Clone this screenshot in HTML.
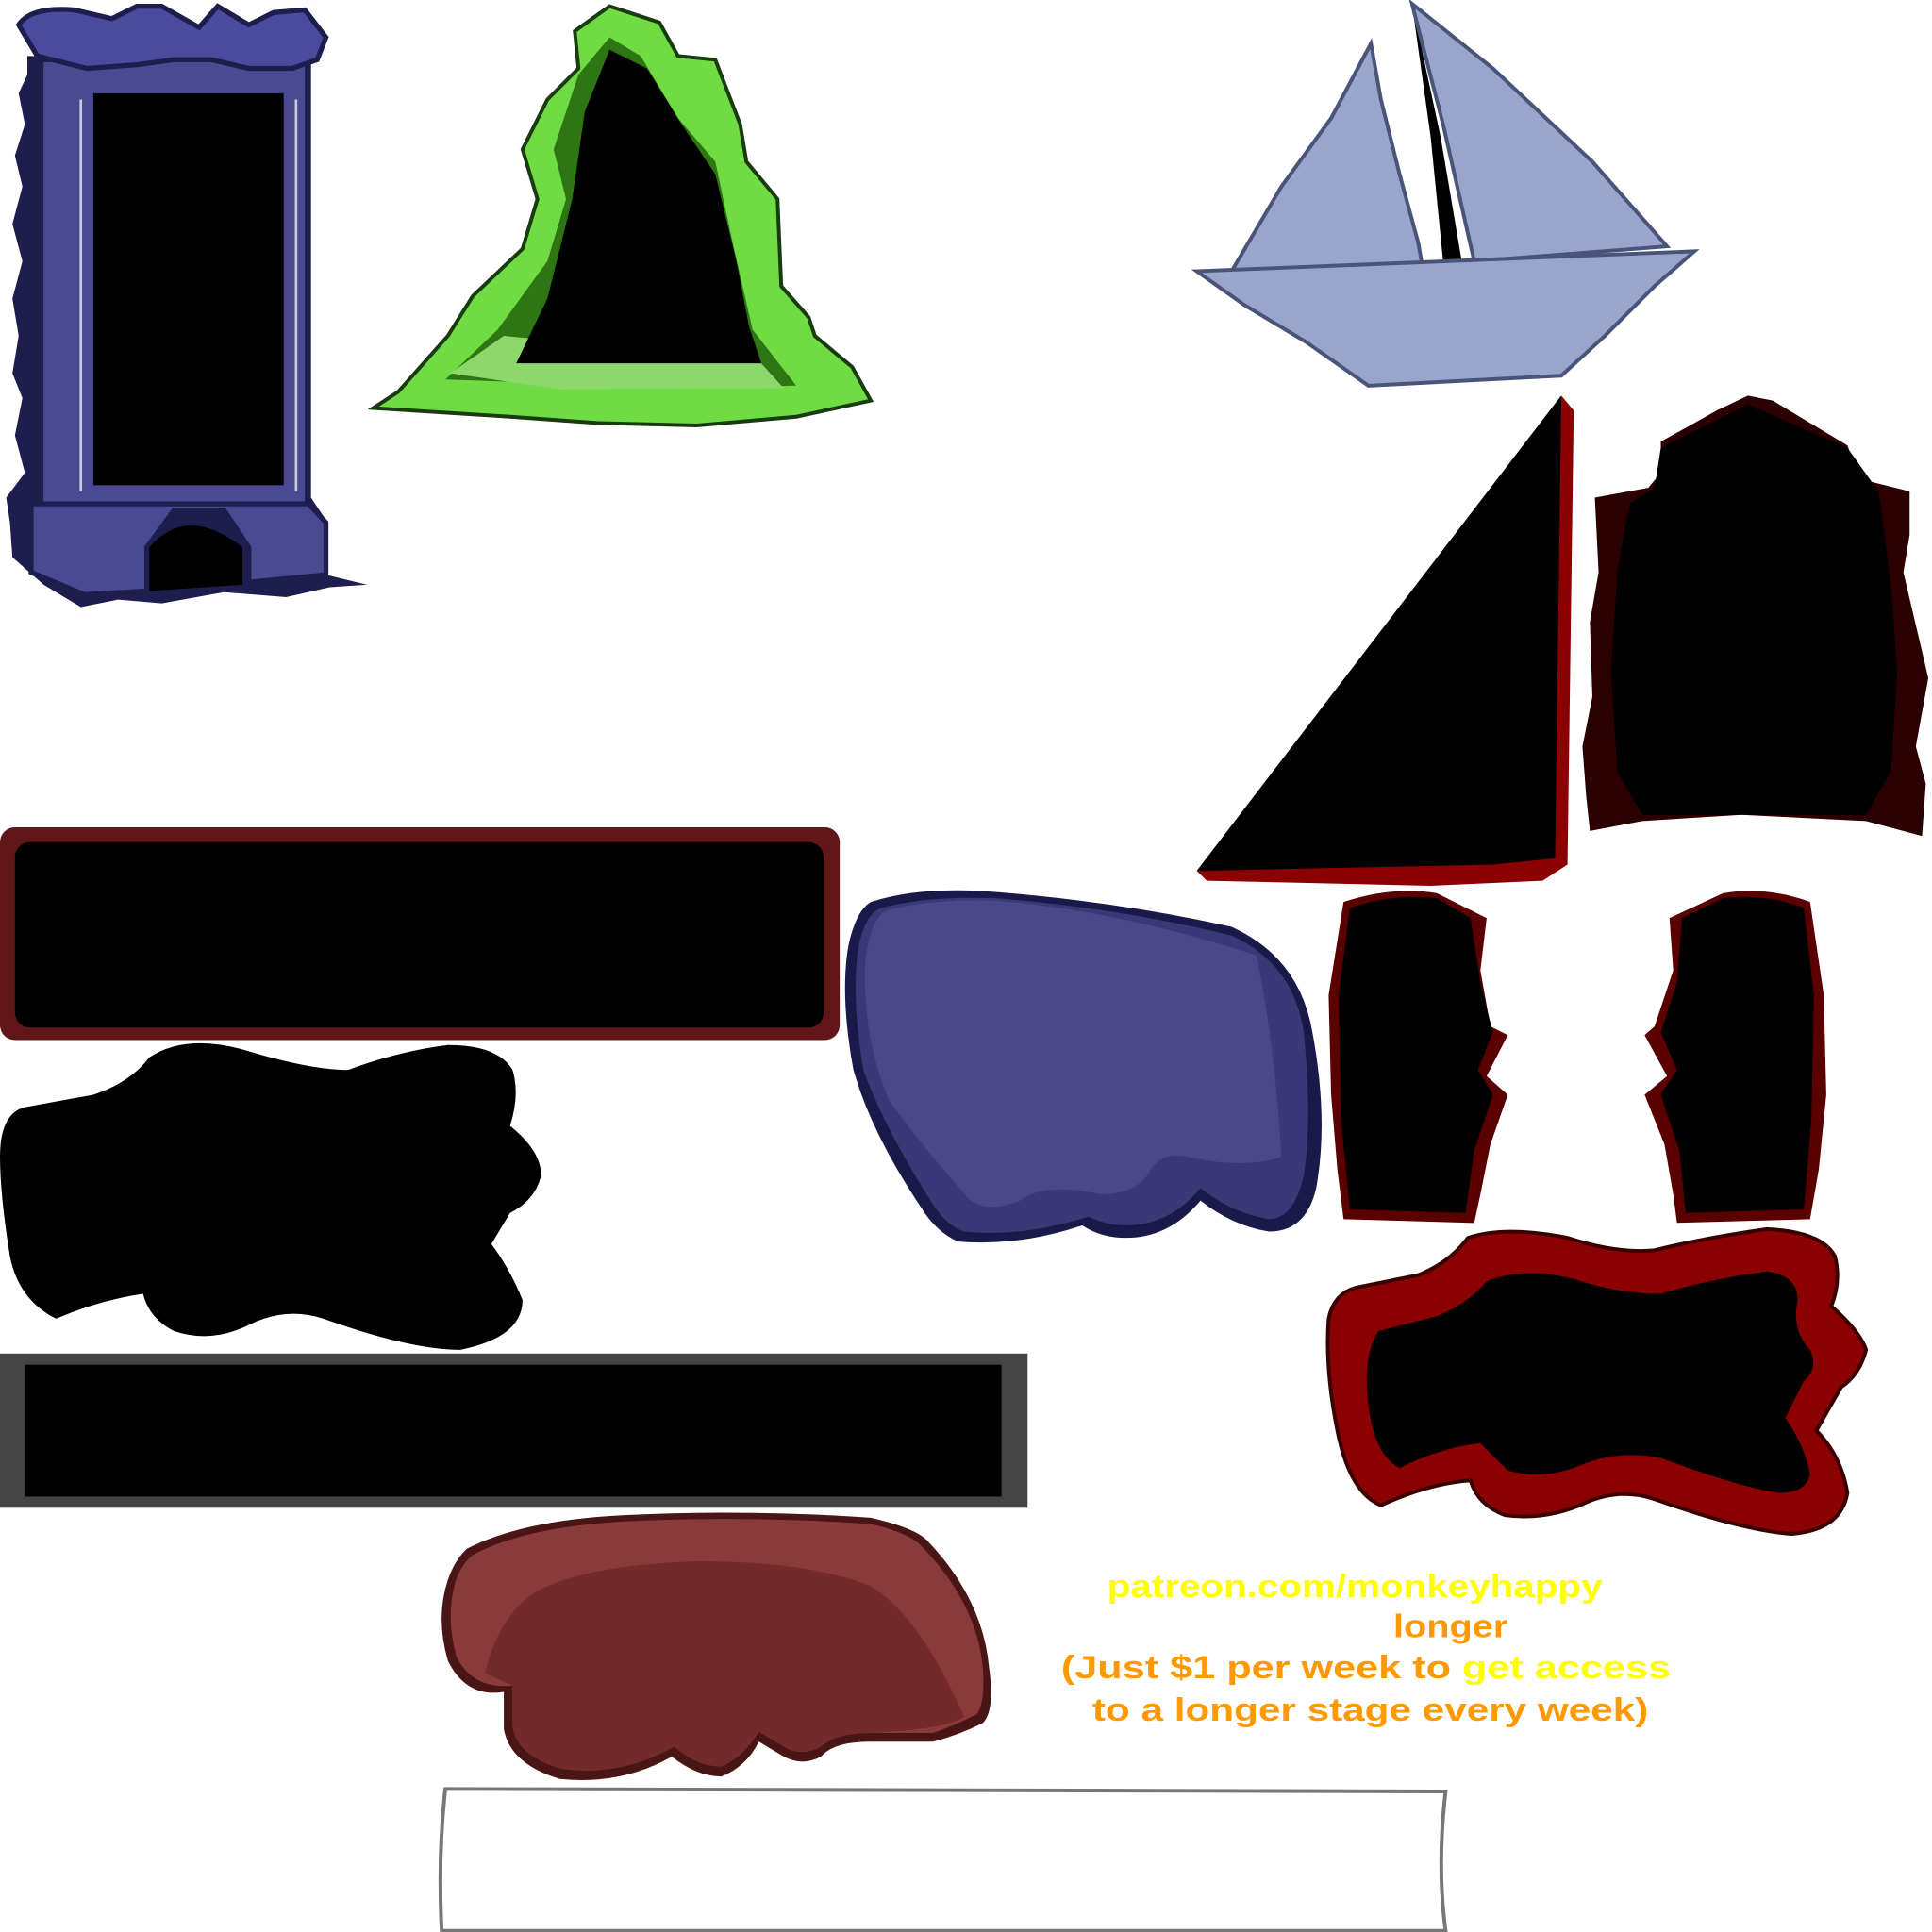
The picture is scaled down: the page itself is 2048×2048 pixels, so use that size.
<!DOCTYPE html>
<html><head><meta charset="utf-8"><style>
html,body{margin:0;padding:0;background:#fff;width:2048px;height:2048px;overflow:hidden}
svg{display:block}
text{font-family:"Liberation Sans",sans-serif;font-weight:bold;font-size:26px}
</style></head><body>
<svg width="2048" height="2048" viewBox="0 0 1553 1553" xmlns="http://www.w3.org/2000/svg">
<!-- blue tower -->
<path d="M22,45 L250,45 L250,400 L262,418 L262,462 L295,470 L265,472 L230,480 L180,476 L130,485 L95,482 L65,488 L35,470 L10,448 L8,420 L5,400 L20,380 L12,350 L18,320 L10,300 L15,270 L10,240 L18,210 L10,180 L18,150 L12,125 L20,100 L15,75 L22,60 Z" fill="#1e1e4e"/>
<rect x="35" y="50" width="210" height="355" fill="#4a4a92"/>
<rect x="75" y="75" width="153" height="315" fill="#000"/>
<path d="M65,80 L65,395 M238,80 L238,395" stroke="#ccd" stroke-width="2"/>
<path d="M25,405 L248,405 L262,420 L262,462 L200,468 L200,440 L180,410 L140,410 L118,440 L118,475 L68,478 L25,460 Z" fill="#4a4a92" stroke="#1e1e4e" stroke-width="4"/>
<path d="M120,440 Q150,405 195,440 L195,470 L120,475 Z" fill="#000"/>
<path d="M15,20 Q25,5 60,8 L90,15 L110,5 L130,5 L160,22 L175,5 L200,20 L220,10 L245,8 L262,30 L255,48 L235,55 L200,55 L170,48 L140,48 L110,52 L70,55 L30,45 Z" fill="#4a4a9e" stroke="#1e1e4e" stroke-width="4"/>
<!-- green triangle -->
<path d="M300,328 L320,315 L360,270 L380,238 L420,200 L432,160 L420,120 L440,80 L465,55 L462,25 L490,5 L530,18 L545,45 L575,48 L595,100 L600,130 L625,160 L628,230 L650,255 L655,270 L685,295 L700,322 L640,335 L560,342 L480,340 L410,335 Z" fill="#6fdc44" stroke="#1a3a10" stroke-width="3"/>
<path d="M358,305 L400,265 L440,210 L455,160 L445,120 L465,60 L490,30 L515,45 L545,95 L575,130 L590,200 L605,265 L640,310 L560,312 Z" fill="#2e7514"/>
<path d="M362,300 L405,270 L610,290 L630,312 L450,313 Z" fill="#8cd86a"/>
<path d="M415,292 L440,240 L460,160 L470,90 L490,40 L520,55 L548,100 L575,140 L592,210 L602,262 L612,292 Z" fill="#000"/>
<!-- sailboat -->
<path d="M990,218 L1030,150 L1070,95 L1102,35 L1110,80 L1125,140 L1140,195 L1143,212 Z" fill="#9aa5cc" stroke="#4a5478" stroke-width="3"/>
<path d="M1135,3 L1150,110 L1160,210 L1175,210 L1158,110 Z" fill="#000"/>
<path d="M1135,3 L1200,55 L1280,130 L1340,198 L1185,210 L1160,100 Z" fill="#9aa5cc" stroke="#4a5478" stroke-width="3"/>
<path d="M962,218 L1362,202 L1330,230 L1290,270 L1255,302 L1100,310 L1050,275 L1000,245 Z" fill="#9aa5cc" stroke="#4a5478" stroke-width="3"/>
<!-- black triangle red edge -->
<path d="M962,700 L1255,318 L1265,330 L1260,695 L1240,708 L1150,712 L970,708 Z" fill="#8b0000"/>
<path d="M962,700 L1255,318 L1250,690 L1200,695 Z" fill="#000"/>
<!-- house shape -->
<path d="M1335,355 L1380,330 L1405,318 L1425,322 L1485,358 L1495,385 L1535,395 L1535,430 L1530,460 L1550,545 L1540,600 L1548,630 L1545,672 L1500,660 L1400,655 L1320,660 L1278,668 L1275,640 L1272,600 L1280,560 L1278,500 L1285,460 L1282,400 L1325,392 L1335,380 Z" fill="#2a0000"/>
<path d="M1335,360 L1405,325 L1485,360 L1510,395 L1520,470 L1525,540 L1520,620 L1500,655 L1320,655 L1300,620 L1295,540 L1300,460 L1310,405 L1330,392 Z" fill="#000"/>
<!-- red rounded rect -->
<rect x="0" y="665" width="675" height="171" rx="12" fill="#611717"/>
<rect x="12" y="677" width="650" height="149" rx="12" fill="#000"/>
<!-- black blob -->
<path d="M20,890 L75,880 Q105,870 120,850 Q150,830 200,845 Q250,860 280,860 Q320,845 360,840 Q400,840 412,860 Q418,880 410,905 Q435,925 435,945 Q430,965 410,975 L395,1000 Q410,1020 420,1045 Q420,1075 370,1085 Q330,1085 260,1060 Q230,1050 200,1065 Q170,1080 140,1070 Q120,1060 115,1040 Q80,1045 45,1060 Q15,1045 8,1010 Q0,960 0,930 Q0,895 20,890 Z" fill="#000"/>
<!-- purple blob -->
<path d="M700,725 Q740,712 800,717 Q900,725 990,745 Q1045,770 1055,830 Q1068,900 1058,955 Q1050,990 1020,990 Q990,985 965,965 Q940,995 905,995 Q885,995 870,985 Q820,1002 770,998 Q752,990 740,970 Q700,910 686,860 Q675,800 682,760 Q688,732 700,725 Z" fill="#1a1a4a"/>
<path d="M708,730 Q745,720 800,722 Q900,730 990,752 Q1040,775 1048,830 Q1055,900 1048,945 Q1040,980 1020,980 Q990,975 965,955 Q940,985 905,985 Q890,985 875,978 Q820,995 775,990 Q760,985 748,965 Q710,905 694,860 Q684,800 690,762 Q695,735 708,730 Z" fill="#3c3776"/>
<path d="M712,732 Q750,722 800,724 Q900,732 1010,768 Q1025,840 1030,930 Q1000,940 955,930 Q935,925 925,940 Q915,960 885,960 Q840,950 820,965 Q795,975 780,965 Q740,920 715,885 Q695,840 695,780 Q698,740 712,732 Z" fill="#4b4789"/>
<!-- pillars -->
<path d="M1080,725 Q1120,712 1155,718 L1195,738 L1190,780 L1198,825 L1212,832 L1195,865 L1212,880 L1198,920 L1190,960 L1185,983 L1080,980 L1075,940 L1070,880 L1068,800 Z" fill="#5a0000"/>
<path d="M1085,730 Q1120,718 1155,722 L1182,738 L1190,790 L1200,830 L1188,860 L1200,880 L1185,925 L1178,975 L1085,972 L1078,900 L1076,800 Z" fill="#000"/>
<path d="M1455,725 Q1420,712 1385,718 L1342,738 L1345,780 L1330,825 L1322,832 L1340,865 L1322,880 L1338,920 L1345,960 L1348,983 L1455,980 L1462,940 L1468,880 L1466,800 Z" fill="#5a0000"/>
<path d="M1450,730 Q1420,718 1385,722 L1352,738 L1348,790 L1335,830 L1348,860 L1335,880 L1350,925 L1355,975 L1450,972 L1456,900 L1458,800 Z" fill="#000"/>
<!-- red blob -->
<path d="M1090,1035 L1140,1025 Q1165,1015 1180,995 Q1210,985 1260,995 Q1300,1008 1330,1005 Q1370,995 1420,988 Q1465,990 1475,1010 Q1480,1030 1472,1050 Q1495,1070 1500,1085 Q1495,1105 1480,1115 L1460,1150 Q1480,1170 1485,1200 Q1480,1230 1440,1233 Q1400,1230 1330,1205 Q1300,1195 1270,1210 Q1240,1222 1210,1218 Q1188,1210 1182,1190 Q1150,1192 1110,1210 Q1085,1200 1075,1150 Q1065,1100 1068,1060 Q1072,1040 1090,1035 Z" fill="#8b0000" stroke="#3a0000" stroke-width="3"/>
<path d="M1108,1070 L1155,1058 Q1180,1048 1195,1030 Q1225,1018 1265,1028 Q1300,1040 1335,1040 Q1375,1028 1420,1022 Q1445,1025 1445,1045 Q1440,1070 1455,1085 Q1462,1100 1450,1110 L1435,1140 Q1450,1160 1455,1185 Q1452,1200 1430,1200 Q1400,1196 1335,1172 Q1300,1165 1270,1178 Q1240,1190 1212,1182 Q1200,1170 1190,1160 Q1160,1163 1125,1180 Q1105,1170 1100,1130 Q1095,1090 1108,1070 Z" fill="#000"/>
<!-- grey rect -->
<rect x="0" y="1088" width="826" height="124" fill="#444"/>
<rect x="20" y="1097" width="785" height="106" fill="#000"/>
<!-- brown blob -->
<path d="M375,1245 Q420,1222 500,1218 Q600,1213 700,1220 Q735,1228 745,1238 Q790,1285 795,1340 Q800,1375 790,1385 Q770,1395 750,1400 L700,1400 Q670,1400 660,1412 Q645,1420 630,1412 L610,1400 Q600,1420 580,1428 Q560,1428 540,1412 Q500,1435 450,1430 Q410,1418 405,1390 L405,1360 Q375,1365 360,1335 Q350,1300 360,1270 Q365,1255 375,1245 Z" fill="#4a1515"/>
<path d="M380,1250 Q420,1228 500,1223 Q600,1218 700,1225 Q730,1232 740,1242 Q785,1288 790,1340 Q792,1370 785,1378 Q765,1388 750,1393 L700,1393 Q672,1393 660,1404 Q645,1412 632,1405 L610,1392 Q598,1412 580,1420 Q560,1420 542,1404 Q500,1428 452,1422 Q416,1412 412,1388 L412,1355 Q380,1358 367,1332 Q358,1300 366,1272 Q370,1258 380,1250 Z" fill="#8a3a3a"/>
<path d="M390,1345 Q400,1300 430,1280 Q470,1258 560,1255 Q650,1255 700,1275 Q740,1300 775,1380 Q760,1390 700,1393 Q672,1393 660,1404 Q645,1412 632,1405 L610,1392 Q598,1412 580,1420 Q560,1420 542,1404 Q500,1428 452,1422 Q416,1412 412,1388 L412,1355 Z" fill="#722a2a"/>
<!-- white rect -->
<path d="M358,1438 L1162,1440 Q1155,1500 1162,1552 L355,1552 Q352,1490 358,1438 Z" fill="#fff" stroke="#777" stroke-width="3"/>
<!-- text -->
<text x="890" y="1284" fill="#ffff00" textLength="398" lengthAdjust="spacingAndGlyphs">patreon.com/monkeyhappy</text>
<text x="1120" y="1316" fill="#ff9900" textLength="92" lengthAdjust="spacingAndGlyphs">longer</text>
<text x="853" y="1349" fill="#ff9900" textLength="490" lengthAdjust="spacingAndGlyphs">(Just $1 per week to <tspan fill="#ffff00">get access</tspan></text>
<text x="878" y="1383" fill="#ff9900" textLength="447" lengthAdjust="spacingAndGlyphs">to a longer stage every week)</text>
</svg>
</body></html>
